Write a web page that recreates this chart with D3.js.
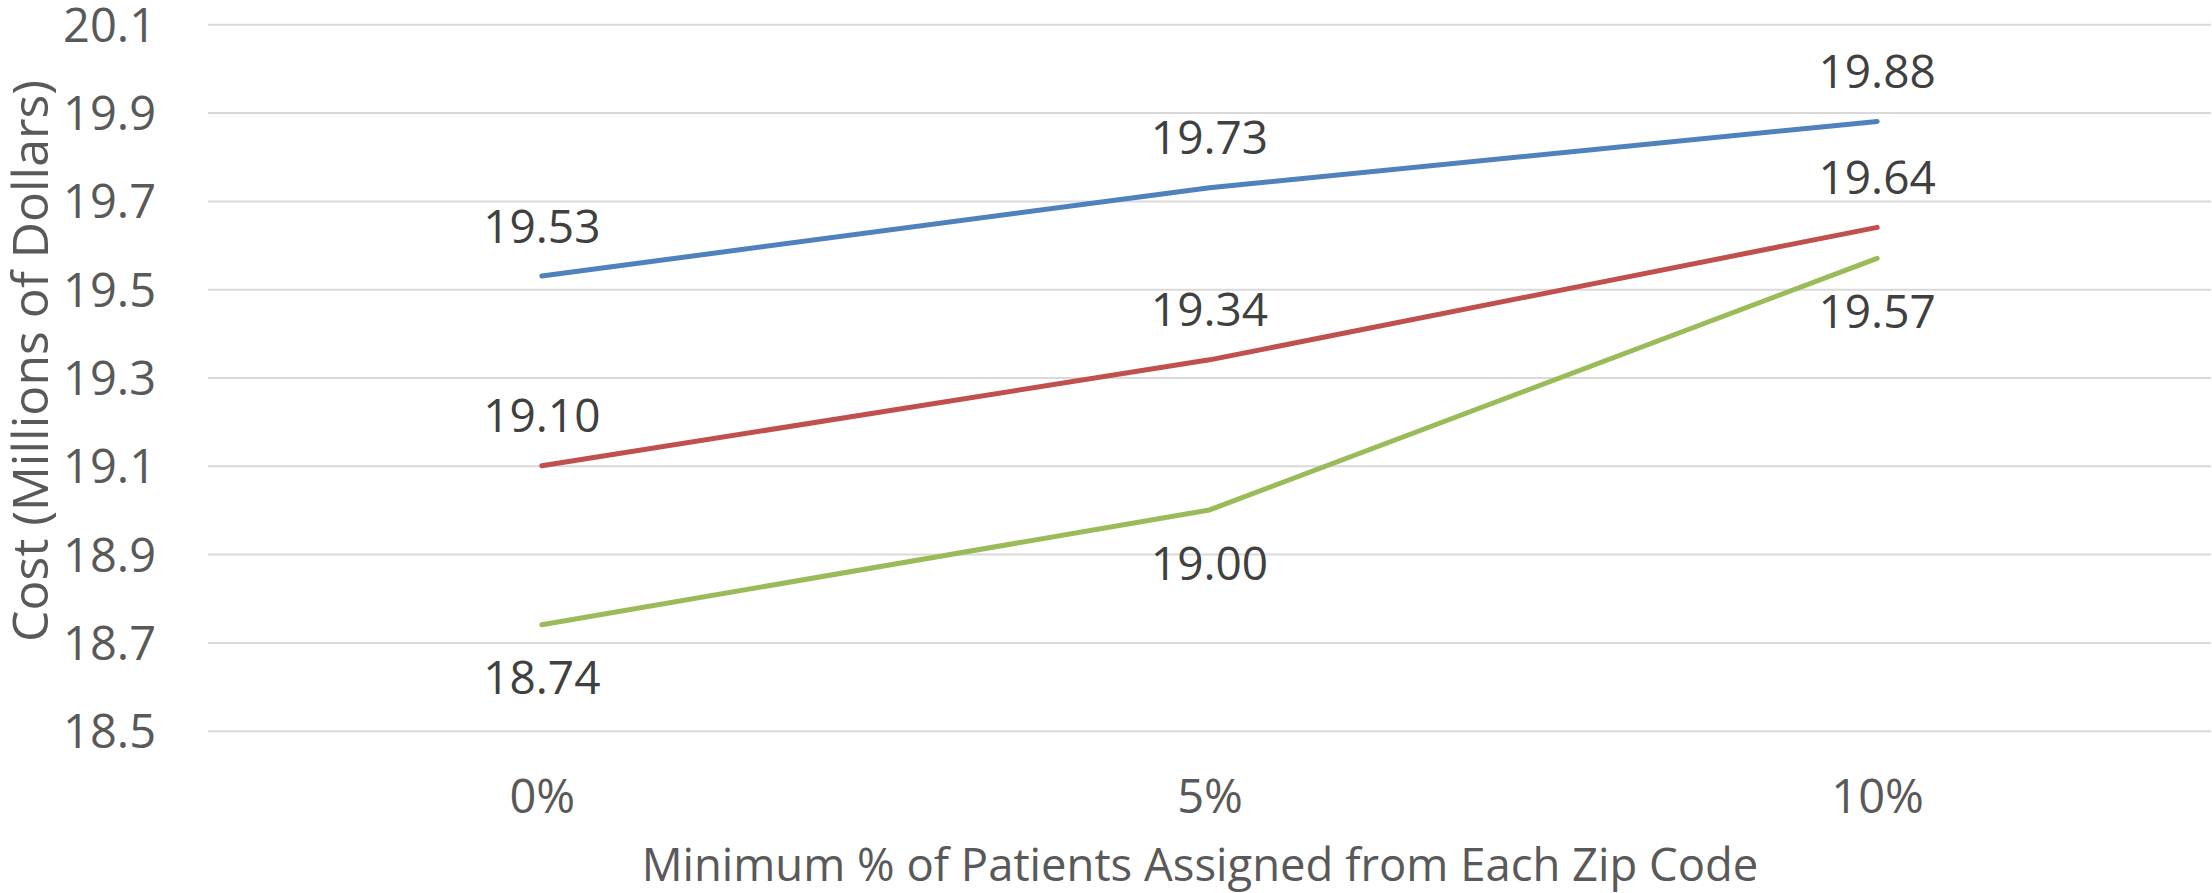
<!DOCTYPE html>
<html>
<head>
<meta charset="utf-8">
<script src="https://cdn.jsdelivr.net/npm/d3@7"></script>
<style>
  html, body { margin: 0; padding: 0; background: #fff; }
  svg { display: block; font-family: "Open Sans", "Noto Sans", sans-serif; }
</style>
</head>
<body>
<svg id="chart" width="2212" height="893"></svg>
<script>
// ---- data ----
const categories = ["0%", "5%", "10%"];
const seriesBlue  = [19.53, 19.73, 19.88];
const seriesRed   = [19.10, 19.34, 19.64];
const seriesGreen = [18.74, 19.00, 19.57];
const yTicks = [18.5, 18.7, 18.9, 19.1, 19.3, 19.5, 19.7, 19.9, 20.1];
const xTitle = "Minimum % of Patients Assigned from Each Zip Code";
const yTitle = "Cost (Millions of Dollars)";

// ---- styles ----
const series = [
  { values: seriesBlue,  color: "#4F81BD", labelPos: "above" },
  { values: seriesRed,   color: "#C0504D", labelPos: "above" },
  { values: seriesGreen, color: "#9BBB59", labelPos: "below" }
];

const W = 2212, H = 893;
const margin = { top: 24.3, right: 1, bottom: 162.3, left: 208 };
const innerW = W - margin.left - margin.right;
const innerH = H - margin.top - margin.bottom;

const svg = d3.select("#chart");
const g = svg.append("g").attr("transform", `translate(${margin.left},${margin.top})`);

const x = d3.scalePoint().domain(categories).range([0, innerW]).padding(0.5);
const y = d3.scaleLinear().domain([18.5, 20.1]).range([innerH, 0]);

// gridlines + y tick labels
const yAxis = g.append("g")
  .call(d3.axisLeft(y).tickValues(yTicks).tickSize(-innerW).tickPadding(52)
        .tickFormat(d3.format(".1f")));
yAxis.select(".domain").remove();
yAxis.selectAll(".tick line").attr("stroke", "#D9D9D9").attr("stroke-width", 2);
yAxis.selectAll(".tick text")
  .attr("fill", "#595959").attr("font-size", 47)
  .attr("font-family", "Open Sans, sans-serif")
  .attr("dy", "0.36em");

// x tick labels
const xAxis = g.append("g")
  .attr("transform", `translate(0,${innerH})`)
  .call(d3.axisBottom(x).tickSize(0).tickPadding(0));
xAxis.select(".domain").remove();
xAxis.selectAll(".tick text")
  .attr("fill", "#595959").attr("font-size", 47)
  .attr("font-family", "Open Sans, sans-serif")
  .attr("y", 82).attr("dy", 0);

// lines
const line = d3.line()
  .x((d, i) => x(categories[i]))
  .y(d => y(d));

series.forEach(s => {
  g.append("path")
    .datum(s.values)
    .attr("fill", "none")
    .attr("stroke", s.color)
    .attr("stroke-width", 5)
    .attr("stroke-linecap", "round")
    .attr("stroke-linejoin", "round")
    .attr("d", line);
});

// data labels
series.forEach(s => {
  g.append("g").selectAll("text")
    .data(s.values)
    .join("text")
    .attr("x", (d, i) => x(categories[i]))
    .attr("y", d => y(d) + (s.labelPos === "above" ? -50 : 53))
    .attr("dy", "0.36em")
    .attr("text-anchor", "middle")
    .attr("font-size", 46)
    .attr("fill", "#404040")
    .text(d => d3.format(".2f")(d));
});

// axis titles, sized to the reference's text lengths
function fitText(sel, targetLen) {
  const base = +sel.attr("font-size");
  const len = sel.node().getComputedTextLength();
  sel.attr("font-size", base * targetLen / len);
}

const xt = svg.append("text")
  .attr("x", 1200)
  .attr("y", 881)
  .attr("text-anchor", "middle")
  .attr("font-size", 41)
  .attr("fill", "#595959")
  .text(xTitle);
fitText(xt, 1117);

const yt = svg.append("text")
  .attr("transform", `translate(30,361) rotate(-90)`)
  .attr("text-anchor", "middle")
  .attr("dy", "0.36em")
  .attr("font-size", 41)
  .attr("fill", "#595959")
  .text(yTitle);
fitText(yt, 562);
</script>
</body>
</html>
